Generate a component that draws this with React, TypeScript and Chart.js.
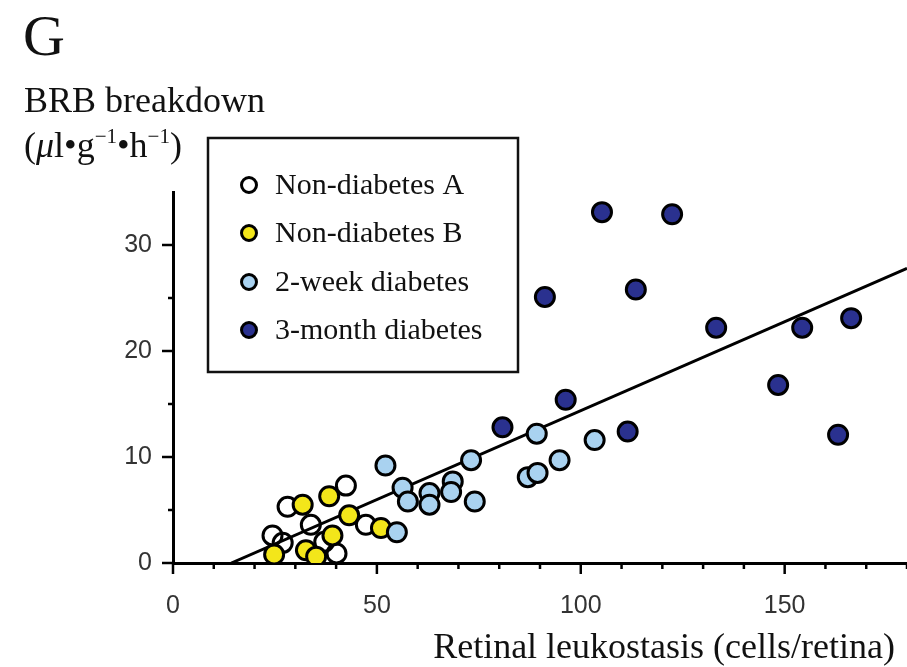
import React, { useEffect, useRef } from "react";
import { Chart, registerables } from "chart.js";

Chart.register(...registerables);

// Non-diabetes A (open circles)
const xNonA = [42.4, 28.1, 33.8, 47.3, 24.4, 26.9, 37.1, 40.1];
const yNonA = [7.3, 5.3, 3.6, 3.6, 2.6, 1.9, 2.0, 0.9];
// Non-diabetes B (yellow)
const xNonB = [31.8, 38.3, 43.2, 51.0, 24.8, 32.6, 35.1, 39.1];
const yNonB = [5.5, 6.3, 4.5, 3.3, 0.8, 1.2, 0.6, 2.6];
// 2-week diabetes (light blue)
const x2wk = [52.1, 73.1, 56.3, 57.6, 62.9, 62.9, 68.6, 68.2, 74.0, 54.9, 87.0, 89.4, 89.2, 94.8, 103.4];
const y2wk = [9.2, 9.7, 7.1, 5.8, 6.6, 5.5, 7.7, 6.7, 5.8, 2.9, 8.1, 8.5, 12.2, 9.7, 11.6];
// 3-month diabetes (dark blue)
const x3mo = [105.2, 122.4, 91.2, 113.5, 133.2, 154.3, 166.3, 148.4, 163.1, 96.3, 80.8, 111.5];
const y3mo = [33.1, 32.9, 25.1, 25.8, 22.2, 22.2, 23.1, 16.8, 12.1, 15.4, 12.8, 12.4];
// Regression line end points
const fitX = [14.3, 180];
const fitY = [0, 27.8];

const seriesLabels = ["Non-diabetes A", "Non-diabetes B", "2-week diabetes", "3-month diabetes"];
const seriesColors = ["rgba(255,255,255,0)", "#f3e61a", "#a9d2f0", "#2a318f"];

const xTickValues = [0, 50, 100, 150];
const yTickValues = [0, 10, 20, 30];

const panelLetter = "G";
const yTitle = "BRB breakdown";
const xTitle = "Retinal leukostasis (cells/retina)";

const pts = (xs: number[], ys: number[]) => xs.map((x, i) => ({ x, y: ys[i] }));

const SERIF = "'Liberation Serif', 'Times New Roman', serif";
const SANS = "'Liberation Sans', Arial, sans-serif";

const decorPlugin = {
  id: "decor",
  afterDraw(chart: any) {
    const ctx = chart.ctx as CanvasRenderingContext2D;
    const xs = chart.scales.x;
    const ys = chart.scales.y;
    const area = chart.chartArea;
    ctx.save();
    ctx.strokeStyle = "#000";
    ctx.lineWidth = 2.5;
    ctx.lineCap = "butt";
    // x ticks
    for (let v = 0; v <= 180; v += 10) {
      const px = xs.getPixelForValue(v);
      const len = v % 50 === 0 ? 11 : 6;
      ctx.beginPath();
      ctx.moveTo(px, area.bottom);
      ctx.lineTo(px, area.bottom + len);
      ctx.stroke();
    }
    // y ticks
    for (let v = 0; v <= 30; v += 5) {
      const py = ys.getPixelForValue(v);
      const len = v % 10 === 0 ? 11 : 5;
      ctx.beginPath();
      ctx.moveTo(area.left, py);
      ctx.lineTo(area.left - len, py);
      ctx.stroke();
    }

    ctx.fillStyle = "#111";
    ctx.textBaseline = "alphabetic";
    // Panel letter
    ctx.textAlign = "left";
    ctx.font = `58px ${SERIF}`;
    ctx.fillText(panelLetter, 23, 55);
    // y title
    ctx.font = `36px ${SERIF}`;
    ctx.fillText(yTitle, 24, 112);
    // unit line with superscripts
    const segs: { t: string; f: string; dy: number }[] = [
      { t: "(", f: `36px ${SERIF}`, dy: 0 },
      { t: "\u03bc", f: `italic 36px ${SERIF}`, dy: 0 },
      { t: "l\u2022g", f: `36px ${SERIF}`, dy: 0 },
      { t: "\u22121", f: `21px ${SERIF}`, dy: -14 },
      { t: "\u2022h", f: `36px ${SERIF}`, dy: 0 },
      { t: "\u22121", f: `21px ${SERIF}`, dy: -14 },
      { t: ")", f: `36px ${SERIF}`, dy: 0 },
    ];
    let cx = 24;
    for (const s of segs) {
      ctx.font = s.f;
      ctx.fillText(s.t, cx, 157 + s.dy);
      cx += ctx.measureText(s.t).width;
    }
    // x title
    ctx.textAlign = "right";
    ctx.font = `36px ${SERIF}`;
    ctx.fillText(xTitle, 895, 658);

    // Legend box
    ctx.fillStyle = "#fff";
    ctx.fillRect(208, 138, 310, 234);
    ctx.strokeStyle = "#111";
    ctx.lineWidth = 2.5;
    ctx.strokeRect(208, 138, 310, 234);
    const rows = [185, 233, 282, 330];
    ctx.textAlign = "left";
    ctx.textBaseline = "middle";
    seriesLabels.forEach((lab, i) => {
      ctx.beginPath();
      ctx.arc(249, rows[i], 7.5, 0, Math.PI * 2);
      ctx.fillStyle = i === 0 ? "#fff" : seriesColors[i];
      ctx.fill();
      ctx.lineWidth = 3;
      ctx.strokeStyle = "#000";
      ctx.stroke();
      ctx.fillStyle = "#111";
      ctx.font = `30px ${SERIF}`;
      ctx.fillText(lab, 275, rows[i] + 1);
    });
    ctx.restore();
  },
};

export default function App() {
  const ref = useRef<HTMLCanvasElement | null>(null);
  useEffect(() => {
    if (!ref.current) return;
    const pointStyle = (i: number) => ({
      backgroundColor: seriesColors[i],
      borderColor: "#000",
      borderWidth: 3,
      pointRadius: 9.5,
      pointHoverRadius: 9.5,
    });
    const chart = new Chart(ref.current, {
      type: "scatter",
      data: {
        datasets: [
          { label: seriesLabels[0], data: pts(xNonA, yNonA), order: 4, ...pointStyle(0) },
          { label: seriesLabels[1], data: pts(xNonB, yNonB), order: 3, ...pointStyle(1) },
          { label: seriesLabels[2], data: pts(x2wk, y2wk), order: 2, ...pointStyle(2) },
          { label: seriesLabels[3], data: pts(x3mo, y3mo), order: 1, ...pointStyle(3) },
          {
            label: "fit",
            data: pts(fitX, fitY),
            showLine: true,
            pointRadius: 0,
            borderColor: "#000",
            borderWidth: 3,
            order: 10,
          } as any,
        ],
      },
      options: {
        responsive: false,
        animation: false,
        layout: { autoPadding: false, padding: { top: 192, right: 0, bottom: 0, left: 0 } },
        plugins: { legend: { display: false }, tooltip: { enabled: false } },
        scales: {
          x: {
            type: "linear",
            min: 0,
            max: 180,
            grid: { display: false, drawTicks: false },
            border: { display: true, color: "#000", width: 3 },
            ticks: {
              stepSize: 10,
              autoSkip: false,
              maxRotation: 0,
              padding: 28,
              color: "#333",
              font: { family: SANS, size: 25 },
              callback: (v: any) => (xTickValues.includes(Number(v)) ? String(v) : ""),
            },
            afterFit: (s: any) => {
              s.height = 104;
              s.paddingLeft = 0;
              s.paddingRight = 0;
            },
          },
          y: {
            type: "linear",
            min: 0,
            max: 35,
            grid: { display: false, drawTicks: false },
            border: { display: true, color: "#000", width: 3 },
            ticks: {
              stepSize: 5,
              autoSkip: false,
              padding: 21,
              color: "#333",
              font: { family: SANS, size: 25 },
              callback: (v: any) => (yTickValues.includes(Number(v)) ? String(v) : ""),
            },
            afterFit: (s: any) => {
              s.width = 173;
              s.paddingTop = 0;
              s.paddingBottom = 0;
            },
          },
        },
      },
      plugins: [decorPlugin],
    });
    return () => chart.destroy();
  }, []);
  return (
    <div style={{ position: "absolute", left: 0, top: 0, width: 907, height: 667, background: "#fff" }}>
      <canvas ref={ref} width={907} height={667} style={{ display: "block", width: 907, height: 667 }} />
    </div>
  );
}
